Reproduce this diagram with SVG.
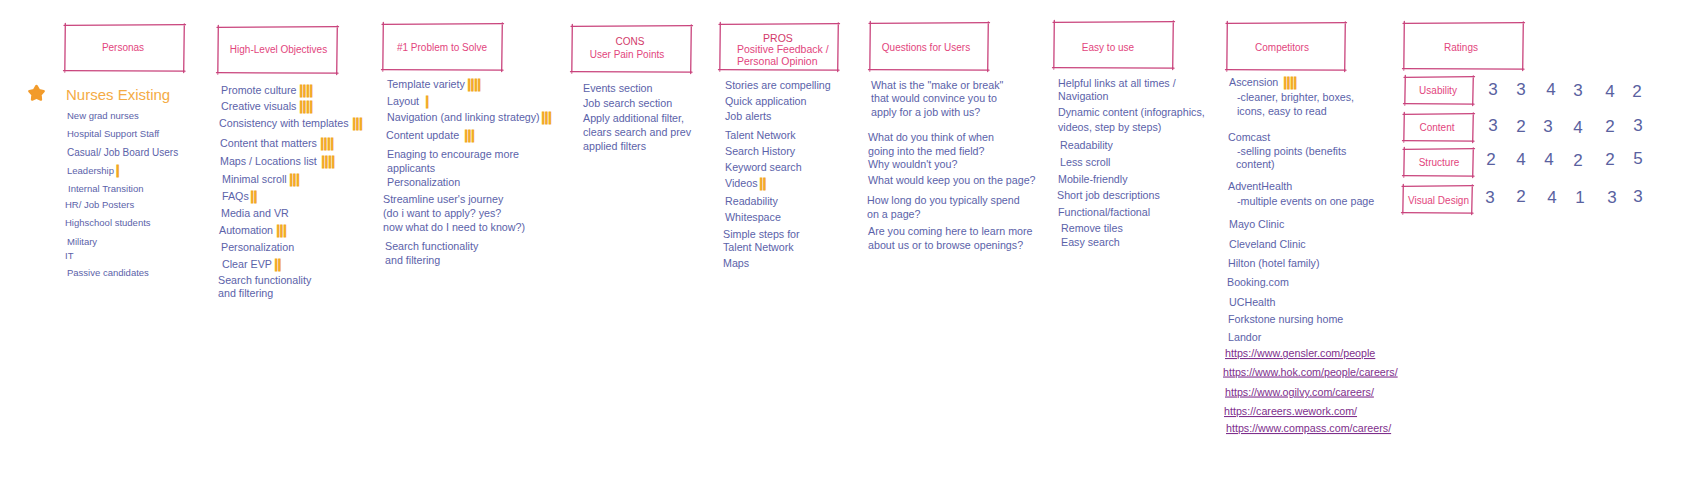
<svg xmlns="http://www.w3.org/2000/svg" width="1689" height="504" viewBox="0 0 1689 504">
<style>
text{font-family:"Liberation Sans",Arial,sans-serif;}
.bx{fill:none;stroke:#c9437c;stroke-width:1.3;stroke-linecap:round;}
.ttl{fill:#e2457d;font-size:10px;text-anchor:middle;}
.ttl2{fill:#e2457d;font-size:10.5px;}
.it{fill:#5b62a9;font-size:10.7px;}
.ps{fill:#5b62a9;font-size:9.5px;}
.tl{fill:#f2a91e;stroke:#f2a91e;stroke-width:0.9;font-size:12px;font-weight:bold;}
.num{fill:#59619f;font-size:17px;text-anchor:middle;}
.lk{fill:#7e2f8c;font-size:10.7px;text-decoration:underline;}
</style>
<rect width="1689" height="504" fill="#ffffff"/>

<g id="personas">
<path class="bx" d="M64,25.3 L185.5,24.7 M184.3,24 L183.7,72.5 M185,71.2 L63.5,70.7 M64.8,72 L65.3,23.5"/>
<text class="ttl" x="123" y="51">Personas</text>
<polygon points="36.5,86 38.97,90.1 43.63,91.18 40.49,94.8 40.91,99.57 36.5,97.7 32.09,99.57 32.51,94.8 29.37,91.18 34.03,90.1" fill="#f29b2b" stroke="#f29b2b" stroke-width="2.5" stroke-linejoin="round"/>
<text x="66" y="99.5" fill="#f4ab45" font-size="15px">Nurses Existing</text>
<text class="ps" x="67" y="119">New grad nurses</text>
<text class="ps" x="67" y="137">Hospital Support Staff</text>
<text class="ps" x="67" y="155.5" style="font-size:10px">Casual/ Job Board Users</text>
<text class="ps" x="67" y="174">Leadership</text><text class="tl" x="116" y="174">|</text>
<text class="ps" x="68" y="192">Internal Transition</text>
<text class="ps" x="65" y="208">HR/ Job Posters</text>
<text class="ps" x="65" y="226">Highschool students</text>
<text class="ps" x="67" y="245">Military</text>
<text class="ps" x="65" y="259">IT</text>
<text class="ps" x="67" y="276">Passive candidates</text>
</g>

<g id="objectives">
<path class="bx" d="M217,27.3 L338.5,26.7 M337.3,26 L336.7,74.5 M338,73.2 L216.5,72.7 M217.8,74 L218.3,25.5"/>
<text class="ttl" x="278.5" y="52.5">High-Level Objectives</text>
<text class="it" x="221" y="94">Promote culture</text><text class="tl" x="299.5" y="94">||||</text>
<text class="it" x="221" y="110">Creative visuals</text><text class="tl" x="299.5" y="110">||||</text>
<text class="it" x="219" y="127">Consistency with templates</text><text class="tl" x="352.5" y="127">|||</text>
<text class="it" x="220" y="146.5">Content that matters</text><text class="tl" x="320.5" y="146.5">||||</text>
<text class="it" x="220" y="164.5">Maps / Locations list</text><text class="tl" x="321.5" y="164.5">||||</text>
<text class="it" x="222" y="183">Minimal scroll</text><text class="tl" x="289.5" y="183">|||</text>
<text class="it" x="222" y="199.5">FAQs</text><text class="tl" x="250.5" y="199.5">||</text>
<text class="it" x="221" y="216.5">Media and VR</text>
<text class="it" x="219" y="234">Automation</text><text class="tl" x="276.5" y="234">|||</text>
<text class="it" x="221" y="251">Personalization</text>
<text class="it" x="222" y="268">Clear EVP</text><text class="tl" x="274.5" y="268">||</text>
<text class="it" x="218" y="284">Search functionality</text>
<text class="it" x="218" y="297">and filtering</text>
</g>

<g id="problem">
<path class="bx" d="M382,24.3 L503.5,23.7 M502.3,23 L501.7,71.5 M503,70.2 L381.5,69.7 M382.8,71 L383.3,22.5"/>
<text class="ttl" x="442" y="50.5">#1 Problem to Solve</text>
<text class="it" x="387" y="88">Template variety</text><text class="tl" x="467.5" y="88">||||</text>
<text class="it" x="387" y="105">Layout</text><text class="tl" x="425.5" y="105">|</text>
<text class="it" x="387" y="120.5">Navigation (and linking strategy)</text><text class="tl" x="541.5" y="120.5">|||</text>
<text class="it" x="386" y="139">Content update</text><text class="tl" x="464.5" y="139">|||</text>
<text class="it" x="387" y="158">Enaging to encourage more</text>
<text class="it" x="387" y="171.5">applicants</text>
<text class="it" x="387" y="185.5">Personalization</text>
<text class="it" x="383" y="203">Streamline user's journey</text>
<text class="it" x="383" y="217">(do i want to apply? yes?</text>
<text class="it" x="383" y="231">now what do I need to know?)</text>
<text class="it" x="385" y="249.5">Search functionality</text>
<text class="it" x="385" y="264">and filtering</text>
</g>

<g id="cons">
<path class="bx" d="M571,26.3 L692.5,25.7 M691.3,25 L690.7,73.5 M692,72.2 L570.5,71.7 M571.8,73 L572.3,24.5"/>
<text class="ttl" x="630" y="44.5" style="fill:#d23a6a">CONS</text>
<text class="ttl" x="627" y="58">User Pain Points</text>
<text class="it" x="583" y="91.5">Events section</text>
<text class="it" x="583" y="107">Job search section</text>
<text class="it" x="583" y="122">Apply additional filter,</text>
<text class="it" x="583" y="136">clears search and prev</text>
<text class="it" x="583" y="150">applied filters</text>
</g>

<g id="pros">
<path class="bx" d="M719,24.3 L839.5,23.7 M838.3,23 L837.7,71.5 M839,70.2 L718.5,69.7 M719.8,71 L720.3,22.5"/>
<text class="ttl2" x="778" y="42" text-anchor="middle" style="fill:#d23a6a">PROS</text>
<text class="ttl2" x="737" y="52.7">Positive Feedback /</text>
<text class="ttl2" x="737" y="65.4">Personal Opinion</text>
<text class="it" x="725" y="89">Stories are compelling</text>
<text class="it" x="725" y="104.5">Quick application</text>
<text class="it" x="725" y="120">Job alerts</text>
<text class="it" x="725" y="139">Talent Network</text>
<text class="it" x="725" y="154.5">Search History</text>
<text class="it" x="725" y="170.5">Keyword search</text>
<text class="it" x="725" y="187">Videos</text><text class="tl" x="759.5" y="187">||</text>
<text class="it" x="725" y="204.5">Readability</text>
<text class="it" x="725" y="221">Whitespace</text>
<text class="it" x="723" y="238">Simple steps for</text>
<text class="it" x="723" y="251">Talent Network</text>
<text class="it" x="723" y="267">Maps</text>
</g>

<g id="questions">
<path class="bx" d="M869,23.3 L989.5,22.7 M988.3,22 L987.7,71.5 M989,70.2 L868.5,69.7 M869.8,71 L870.3,21.5"/>
<text class="ttl" x="926" y="50.5">Questions for Users</text>
<text class="it" x="871" y="89">What is the "make or break"</text>
<text class="it" x="871" y="102">that would convince you to</text>
<text class="it" x="871" y="116">apply for a job with us?</text>
<text class="it" x="868" y="140.5">What do you think of when</text>
<text class="it" x="868" y="154.5">going into the med field?</text>
<text class="it" x="868" y="168">Why wouldn't you?</text>
<text class="it" x="868" y="184">What would keep you on the page?</text>
<text class="it" x="867" y="204">How long do you typically spend</text>
<text class="it" x="867" y="218">on a page?</text>
<text class="it" x="868" y="235">Are you coming here to learn more</text>
<text class="it" x="868" y="249">about us or to browse openings?</text>
</g>

<g id="easy">
<path class="bx" d="M1053,22.3 L1174.5,21.7 M1173.3,21 L1172.7,69.5 M1174,68.2 L1052.5,67.7 M1053.8,69 L1054.3,20.5"/>
<text class="ttl" x="1108" y="50.5">Easy to use</text>
<text class="it" x="1058" y="86.5">Helpful links at all times /</text>
<text class="it" x="1058" y="99.5">Navigation</text>
<text class="it" x="1058" y="115.5">Dynamic content (infographics,</text>
<text class="it" x="1058" y="130.5">videos, step by steps)</text>
<text class="it" x="1060" y="149">Readability</text>
<text class="it" x="1060" y="166">Less scroll</text>
<text class="it" x="1058" y="183">Mobile-friendly</text>
<text class="it" x="1057" y="199">Short job descriptions</text>
<text class="it" x="1058" y="215.5">Functional/factional</text>
<text class="it" x="1061" y="232">Remove tiles</text>
<text class="it" x="1061" y="246">Easy search</text>
</g>

<g id="competitors">
<path class="bx" d="M1226,23.3 L1346.5,22.7 M1345.3,22 L1344.7,71.5 M1346,70.2 L1225.5,69.7 M1226.8,71 L1227.3,21.5"/>
<text class="ttl" x="1282" y="50.5">Competitors</text>
<text class="it" x="1229" y="86">Ascension</text><text class="tl" x="1283.5" y="86">||||</text>
<text class="it" x="1237" y="100.5">-cleaner, brighter, boxes,</text>
<text class="it" x="1237" y="114.5">icons, easy to read</text>
<text class="it" x="1228" y="140.5">Comcast</text>
<text class="it" x="1237" y="155">-selling points (benefits</text>
<text class="it" x="1236" y="168">content)</text>
<text class="it" x="1228" y="190">AdventHealth</text>
<text class="it" x="1237" y="205">-multiple events on one page</text>
<text class="it" x="1229" y="228">Mayo Clinic</text>
<text class="it" x="1229" y="248">Cleveland Clinic</text>
<text class="it" x="1228" y="266.5">Hilton (hotel family)</text>
<text class="it" x="1227" y="286">Booking.com</text>
<text class="it" x="1229" y="306">UCHealth</text>
<text class="it" x="1228" y="323">Forkstone nursing home</text>
<text class="it" x="1228" y="341">Landor</text>
<text class="lk" x="1225" y="357">https://www.gensler.com/people</text>
<text class="lk" x="1223" y="375.5">https://www.hok.com/people/careers/</text>
<text class="lk" x="1225" y="395.5">https://www.ogilvy.com/careers/</text>
<text class="lk" x="1224" y="415">https://careers.wework.com/</text>
<text class="lk" x="1226" y="432">https://www.compass.com/careers/</text>
</g>

<g id="ratings">
<path class="bx" d="M1403,23.3 L1524.5,22.7 M1523.3,22 L1522.7,70.5 M1524,69.2 L1402.5,68.7 M1403.8,70 L1404.3,21.5"/>
<text class="ttl" x="1461" y="50.5">Ratings</text>
</g>

<g id="usability">
<path class="bx" d="M1404,77.3 L1474.5,76.7 M1473.3,76 L1472.7,105.5 M1474,104.2 L1403.5,103.7 M1404.8,105 L1405.3,75.5"/>
<text class="ttl" x="1438" y="93.5">Usability</text>
<text class="num" x="1493" y="95">3</text><text class="num" x="1521" y="95">3</text><text class="num" x="1551" y="95">4</text><text class="num" x="1578" y="96">3</text><text class="num" x="1610" y="97">4</text><text class="num" x="1637" y="96.5">2</text>
</g>

<g id="content">
<path class="bx" d="M1403,114.3 L1474.5,113.7 M1473.3,113 L1472.7,142.5 M1474,141.2 L1402.5,140.7 M1403.8,142 L1404.3,112.5"/>
<text class="ttl" x="1437" y="131">Content</text>
<text class="num" x="1493" y="130.5">3</text><text class="num" x="1521" y="132">2</text><text class="num" x="1548" y="131.5">3</text><text class="num" x="1578" y="133">4</text><text class="num" x="1610" y="132">2</text><text class="num" x="1638" y="130.5">3</text>
</g>

<g id="structure">
<path class="bx" d="M1403,149.3 L1474.5,148.7 M1473.3,148 L1472.7,177.5 M1474,176.2 L1402.5,175.7 M1403.8,177 L1404.3,147.5"/>
<text class="ttl" x="1439" y="166">Structure</text>
<text class="num" x="1491" y="165">2</text><text class="num" x="1521" y="165">4</text><text class="num" x="1549" y="165">4</text><text class="num" x="1578" y="166">2</text><text class="num" x="1610" y="164.5">2</text><text class="num" x="1638" y="164">5</text>
</g>

<g id="visual-design">
<path class="bx" d="M1402,186.3 L1473.5,185.7 M1472.3,185 L1471.7,214.5 M1473,213.2 L1401.5,212.7 M1402.8,214 L1403.3,184.5"/>
<text class="ttl" x="1438.5" y="204">Visual Design</text>
<text class="num" x="1490" y="202.5">3</text><text class="num" x="1521" y="202">2</text><text class="num" x="1552" y="202.5">4</text><text class="num" x="1580" y="202.5">1</text><text class="num" x="1612" y="203">3</text><text class="num" x="1638" y="202">3</text>
</g>

<g id="connectors"></g>
</svg>
